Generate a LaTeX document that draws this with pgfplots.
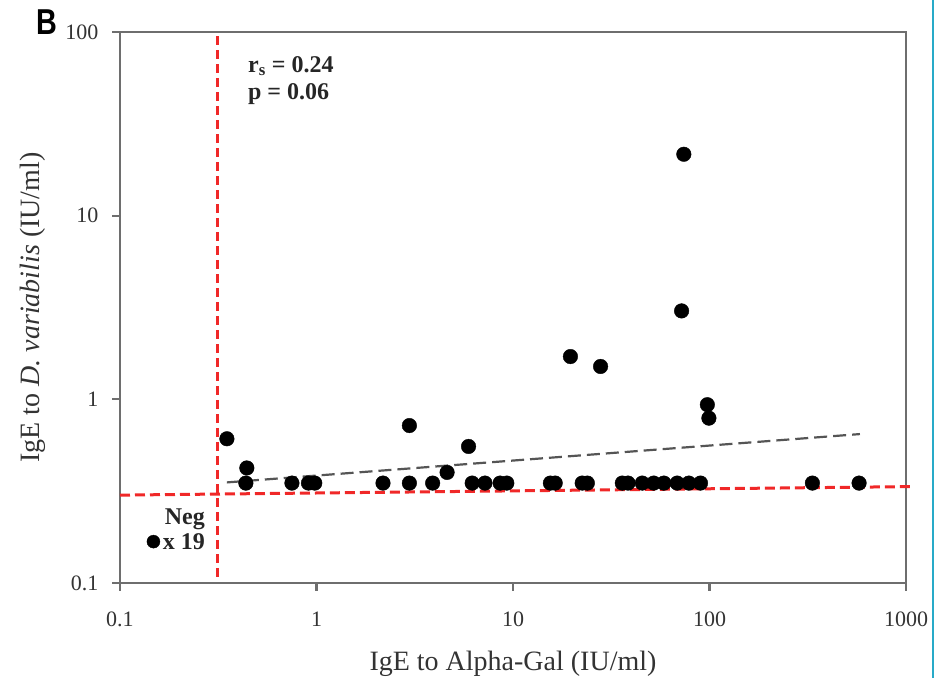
\documentclass[border=0pt]{standalone}
\usepackage{fontspec}
\setmainfont{Liberation Serif}
\setsansfont{Liberation Sans}
\usepackage{pgfplots}
\pgfplotsset{compat=1.18}
\definecolor{axgray}{RGB}{110,110,110}
\definecolor{dred}{RGB}{240,40,40}
\definecolor{trendgray}{RGB}{85,85,85}
\definecolor{cyanb}{RGB}{40,170,200}
\begin{document}
\begin{tikzpicture}
\path[use as bounding box] (-120pt,-95pt) rectangle (820pt,583pt);
\draw[cyanb, line width=1.2pt] (813pt,-95pt) -- (813pt,583pt);
\node[anchor=base west, inner sep=0pt] at (-84pt,548pt) {\fontsize{36}{40}\selectfont\sffamily\bfseries\scalebox{0.8}[1]{B}};
\begin{axis}[
  at={(0pt,0pt)}, anchor=south west,
  scale only axis, width=786pt, height=551pt,
  xmode=log, ymode=log,
  xmin=0.1, xmax=1000, ymin=0.1, ymax=100,
  xtick={0.1,1,10,100,1000}, xticklabels={0.1,1,10,100,1000},
  ytick={0.1,1,10,100}, yticklabels={0.1,1,10,100},
  xminorticks=false, yminorticks=false,
  xtick pos=left, ytick pos=left, tick align=outside,
  major tick length=8pt,
  axis line style={axgray, line width=2.2pt},
  every tick/.style={axgray, line width=2.2pt},
  ticklabel style={font=\fontsize{22}{24}\selectfont, text=black!80},
  /pgf/number format/assume math mode=true,
  xticklabel style={anchor=base, yshift=-36pt},
  yticklabel style={anchor=east, xshift=-10pt},
  xlabel={IgE to Alpha-Gal (IU/ml)},
  ylabel={IgE to \textit{D. variabilis} (IU/ml)},
  label style={font=\fontsize{28}{32}\selectfont, text=black!80},
  xlabel style={at={(axis description cs:0.5,-0.1579)}, anchor=base},
  ylabel style={at={(axis description cs:-0.1018,0.5)}, anchor=base, rotate=0},
  clip=false,
]
% regression trend
\addplot[trendgray, line width=2.2pt, dash pattern=on 13pt off 6pt] coordinates {(0.35,0.353) (583,0.647)};
% data
\addplot[only marks, mark=*, mark size=7.3pt, mark options={fill=black, draw=black}] coordinates {
(0.437,0.35) (0.75,0.35) (0.91,0.35) (0.98,0.35) (2.18,0.35) (2.97,0.35) (3.9,0.35)
(6.2,0.35) (7.2,0.35) (8.6,0.35) (9.3,0.35) (15.5,0.35) (16.4,0.35) (22.5,0.35) (23.9,0.35)
(36,0.35) (38.5,0.35) (45.5,0.35) (52,0.35) (58.6,0.35) (68.5,0.35) (78.5,0.35) (90,0.35)
(334,0.35) (577,0.35)
(0.35,0.61) (0.442,0.423) (2.97,0.72) (4.62,0.40) (5.94,0.554) (19.6,1.71) (27.9,1.51)
(97.5,0.935) (99.3,0.79) (74,21.6) (72.1,3.03)
};
\addplot[only marks, mark=*, mark size=6.5pt, mark options={fill=black, draw=black}] coordinates {(0.148,0.168)};
% thresholds
\addplot[dred, line width=3pt, dash pattern=on 9pt off 5pt] coordinates {(0.312,0.108) (0.312,100)};
\addplot[dred, line width=3pt, dash pattern=on 10pt off 5pt] coordinates {(0.1,0.301) (1084,0.335)};
% annotations
\node[anchor=base west, inner sep=0pt, font=\fontsize{24}{26}\selectfont\bfseries, text=black!85] at (rel axis cs:0.1628,0.9274) {r\textsubscript{s} = 0.24};
\node[anchor=base west, inner sep=0pt, font=\fontsize{24}{26}\selectfont\bfseries, text=black!85] at (rel axis cs:0.1628,0.8766) {p = 0.06};
\node[anchor=base east, inner sep=0pt, font=\fontsize{24}{26}\selectfont\bfseries, text=black!85] at (axis cs:0.271,0.207) {Neg};
\node[anchor=base east, inner sep=0pt, font=\fontsize{24}{26}\selectfont\bfseries, text=black!85] at (axis cs:0.271,0.153) {x 19};
\end{axis}
\end{tikzpicture}
\end{document}
